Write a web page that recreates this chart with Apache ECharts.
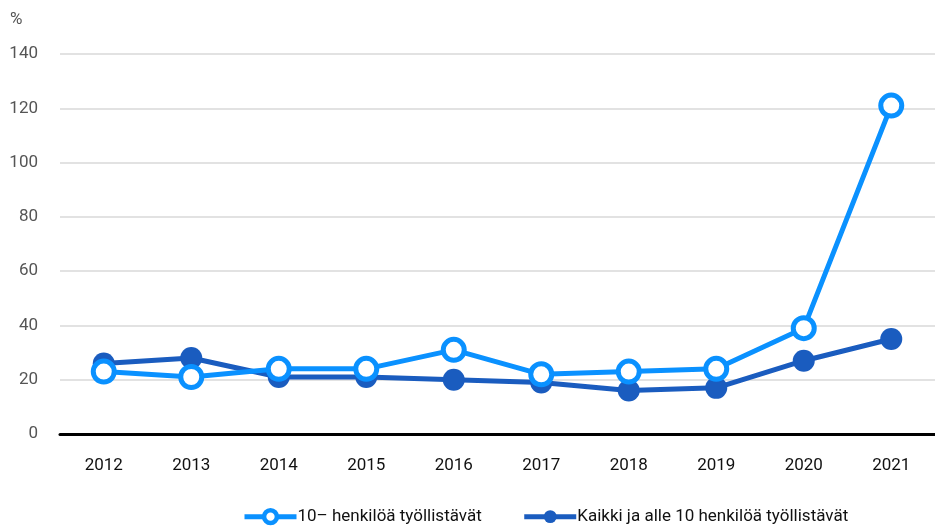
<!DOCTYPE html>
<html>
<head>
<meta charset="utf-8">
<script src="https://cdn.jsdelivr.net/npm/echarts@6/dist/echarts.min.js"></script>
<style>
  html, body { margin: 0; padding: 0; background: #fff; }
  #chart { width: 935px; height: 529px; }
</style>
</head>
<body>
<div id="chart"></div>
<script>
// vuodet ja sarjat
const years = ['2012', '2013', '2014', '2015', '2016', '2017', '2018', '2019', '2020', '2021']
const small = [23, 21, 24, 24, 31, 22, 23, 24, 39, 121]
const all = [26, 28, 21, 21, 20, 19, 16, 17, 27, 35]
const yTicks = [0, 20, 40, 60, 80, 100, 120, 140]

const font = 'Roboto'
const light = '#0a91ff'
const dark = '#1a5cbf'
const chart = echarts.init(document.getElementById('chart'))

chart.setOption({
  animation: false,
  textStyle: { fontFamily: font, fontSize: 17 },
  grid: { left: 60, right: -11, top: 54, bottom: 95 },
  xAxis: {
    type: 'category',
    data: years,
    boundaryGap: true,
    axisLine: { lineStyle: { color: '#000', width: 3 } },
    axisTick: { show: false },
    axisLabel: { color: '#111', fontSize: 17, margin: 23, fontFamily: font }
  },
  yAxis: {
    type: 'value',
    min: yTicks[0],
    max: yTicks[yTicks.length - 1],
    interval: 20,
    name: '%',
    nameLocation: 'end',
    nameGap: 26,
    nameTextStyle: { color: '#555', fontSize: 17, align: 'left', padding: [0, 0, 0, -50], fontFamily: font },
    axisLine: { show: false },
    axisTick: { show: false },
    axisLabel: { color: '#555', fontSize: 17, margin: 22, fontFamily: font },
    splitLine: { lineStyle: { color: '#d9d9d9', width: 1.5 } }
  },
  legend: {
    top: 503,
    left: 237,
    itemWidth: 52,
    itemHeight: 16,
    itemGap: 40,
    textStyle: { color: '#111', fontSize: 17, fontFamily: font, padding: [0, 0, 0, -4] },
    data: [
      { name: '10– henkilöä työllistävät', lineStyle: { width: 5 }, itemStyle: { borderWidth: 4.5 } },
      { name: 'Kaikki ja alle 10 henkilöä työllistävät', lineStyle: { width: 5 } }
    ]
  },
  series: [
    {
      name: 'Kaikki ja alle 10 henkilöä työllistävät',
      type: 'line',
      data: all,
      z: 2,
      symbol: 'circle',
      symbolSize: 22,
      lineStyle: { color: dark, width: 5 },
      itemStyle: { color: dark, borderWidth: 0 }
    },
    {
      name: '10– henkilöä työllistävät',
      type: 'line',
      data: small,
      z: 3,
      symbol: 'circle',
      symbolSize: 21,
      lineStyle: { color: light, width: 5 },
      itemStyle: { color: '#fff', borderColor: light, borderWidth: 5 }
    }
  ]
})
</script>
</body>
</html>
